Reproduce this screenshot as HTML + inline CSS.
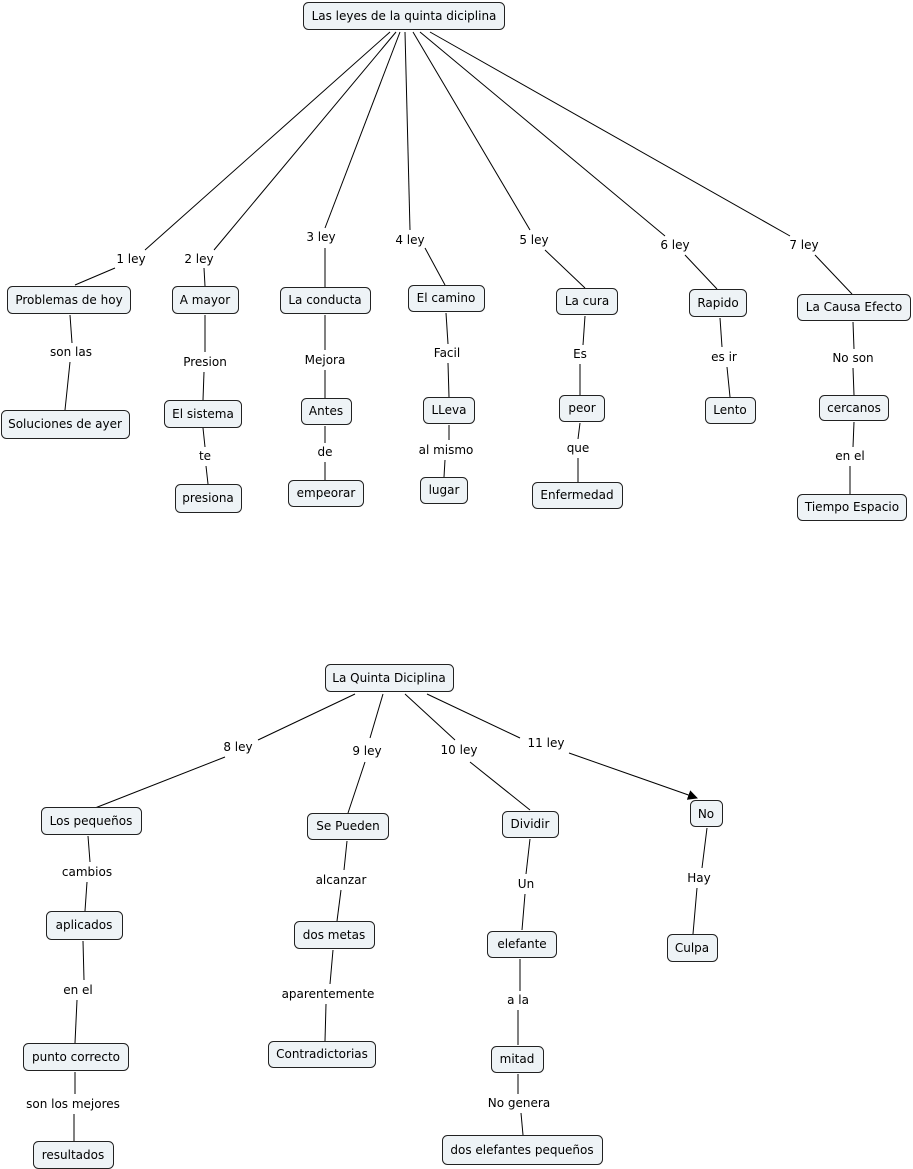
<!DOCTYPE html>
<html><head><meta charset="utf-8"><style>
html,body{margin:0;padding:0;background:#fff;}
svg{display:block;}
text{font-family:"DejaVu Sans","Liberation Sans",sans-serif;font-size:12px;fill:#000;}
rect{fill:#eef3f6;stroke:#222;stroke-width:1;}
line{stroke:#000;stroke-width:1;}
</style></head><body>
<svg width="913" height="1169" viewBox="0 0 913 1169" xmlns="http://www.w3.org/2000/svg">
<defs><marker id="ah" markerWidth="10" markerHeight="10" refX="9" refY="5" orient="auto" markerUnits="userSpaceOnUse"><path d="M0,0 L10,5 L0,10 z" fill="#000"/></marker></defs>
<g>
<!-- top connections -->
<line x1="390" y1="32" x2="145" y2="250"/><line x1="115" y1="268" x2="75" y2="285"/>
<line x1="396" y1="32" x2="214" y2="250"/><line x1="204" y1="268" x2="205" y2="286"/>
<line x1="400" y1="32" x2="325" y2="228"/><line x1="325" y1="248" x2="325" y2="287"/>
<line x1="405" y1="32" x2="410" y2="230"/><line x1="425" y1="248" x2="445" y2="285"/>
<line x1="413" y1="32" x2="530" y2="230"/><line x1="545" y1="250" x2="585" y2="288"/>
<line x1="420" y1="32" x2="665" y2="236"/><line x1="685" y1="255" x2="717" y2="289"/>
<line x1="430" y1="32" x2="790" y2="236"/><line x1="815" y1="255" x2="852" y2="294"/>
<!-- chains -->
<line x1="70" y1="315" x2="72" y2="343"/><line x1="70" y1="362" x2="65" y2="410"/>
<line x1="205" y1="315" x2="205" y2="352"/><line x1="204" y1="372" x2="203" y2="400"/>
<line x1="203" y1="428" x2="205" y2="447"/><line x1="206" y1="466" x2="208" y2="484"/>
<line x1="325" y1="315" x2="325" y2="350"/><line x1="325" y1="370" x2="325" y2="398"/>
<line x1="325" y1="426" x2="325" y2="443"/><line x1="325" y1="462" x2="325" y2="480"/>
<line x1="446" y1="313" x2="448" y2="344"/><line x1="448" y1="363" x2="449" y2="397"/>
<line x1="449" y1="425" x2="449" y2="440"/><line x1="445" y1="460" x2="444" y2="477"/>
<line x1="585" y1="316" x2="583" y2="345"/><line x1="580" y1="364" x2="580" y2="395"/>
<line x1="580" y1="423" x2="578" y2="439"/><line x1="578" y1="458" x2="578" y2="482"/>
<line x1="720" y1="318" x2="722" y2="347"/><line x1="727" y1="367" x2="730" y2="397"/>
<line x1="853" y1="322" x2="854" y2="349"/><line x1="853" y1="368" x2="854" y2="395"/>
<line x1="854" y1="422" x2="853" y2="447"/><line x1="850" y1="466" x2="850" y2="494"/>
<!-- bottom -->
<line x1="355" y1="694" x2="258" y2="740"/><line x1="225" y1="757" x2="95" y2="808"/>
<line x1="383" y1="694" x2="370" y2="738"/><line x1="365" y1="762" x2="348" y2="813"/>
<line x1="405" y1="694" x2="455" y2="740"/><line x1="470" y1="762" x2="530" y2="810"/>
<line x1="427" y1="694" x2="520" y2="738"/><line x1="569" y1="753" x2="697" y2="798" marker-end="url(#ah)"/>
<line x1="88" y1="836" x2="90" y2="862"/><line x1="87" y1="882" x2="85" y2="911"/>
<line x1="83" y1="941" x2="84" y2="980"/><line x1="77" y1="1000" x2="75" y2="1043"/>
<line x1="75" y1="1072" x2="75" y2="1094"/><line x1="74" y1="1114" x2="74" y2="1141"/>
<line x1="347" y1="841" x2="344" y2="870"/><line x1="341" y1="890" x2="337" y2="921"/>
<line x1="333" y1="950" x2="330" y2="984"/><line x1="326" y1="1004" x2="325" y2="1041"/>
<line x1="530" y1="839" x2="526" y2="874"/><line x1="525" y1="894" x2="522" y2="930"/>
<line x1="520" y1="959" x2="520" y2="991"/><line x1="518" y1="1010" x2="518" y2="1045"/>
<line x1="518" y1="1074" x2="518" y2="1094"/><line x1="521" y1="1113" x2="523" y2="1135"/>
<line x1="707" y1="828" x2="702" y2="868"/><line x1="697" y1="888" x2="693" y2="934"/>
</g>
<g>
<rect x="303.5" y="2.5" width="201" height="27" rx="5"/>
<rect x="7.5" y="286.5" width="123" height="27" rx="5"/>
<rect x="172.5" y="286.5" width="66" height="27" rx="5"/>
<rect x="280.5" y="287.5" width="90" height="26" rx="5"/>
<rect x="408.5" y="285.5" width="76" height="26" rx="5"/>
<rect x="556.5" y="288.5" width="61" height="26" rx="5"/>
<rect x="689.5" y="289.5" width="57" height="27" rx="5"/>
<rect x="797.5" y="294.5" width="113" height="26" rx="5"/>
<rect x="1.5" y="410.5" width="128" height="28" rx="5"/>
<rect x="164.5" y="400.5" width="77" height="27" rx="5"/>
<rect x="175.5" y="484.5" width="66" height="28" rx="5"/>
<rect x="301.5" y="398.5" width="50" height="26" rx="5"/>
<rect x="288.5" y="480.5" width="75" height="26" rx="5"/>
<rect x="423.5" y="397.5" width="51" height="26" rx="5"/>
<rect x="420.5" y="477.5" width="47" height="26" rx="5"/>
<rect x="559.5" y="395.5" width="45" height="26" rx="5"/>
<rect x="532.5" y="482.5" width="90" height="26" rx="5"/>
<rect x="705.5" y="397.5" width="50" height="26" rx="5"/>
<rect x="819.5" y="395.5" width="69" height="25" rx="5"/>
<rect x="797.5" y="494.5" width="109" height="26" rx="5"/>
<rect x="325.5" y="664.5" width="128" height="27" rx="5"/>
<rect x="41.5" y="807.5" width="100" height="27" rx="5"/>
<rect x="307.5" y="813.5" width="81" height="26" rx="5"/>
<rect x="502.5" y="811.5" width="56" height="26" rx="5"/>
<rect x="690.5" y="800.5" width="32" height="26" rx="5"/>
<rect x="46.5" y="911.5" width="76" height="28" rx="5"/>
<rect x="23.5" y="1043.5" width="105" height="27" rx="5"/>
<rect x="33.5" y="1141.5" width="80" height="27" rx="5"/>
<rect x="294.5" y="921.5" width="80" height="27" rx="5"/>
<rect x="268.5" y="1041.5" width="107" height="26" rx="5"/>
<rect x="487.5" y="931.5" width="69" height="26" rx="5"/>
<rect x="491.5" y="1046.5" width="52" height="26" rx="5"/>
<rect x="442.5" y="1135.5" width="160" height="29" rx="5"/>
<rect x="667.5" y="934.5" width="50" height="27" rx="5"/>
</g>
<g text-anchor="middle">
<text x="404" y="20">Las leyes de la quinta diciplina</text>
<text x="69" y="304">Problemas de hoy</text>
<text x="205" y="304">A mayor</text>
<text x="325" y="304">La conducta</text>
<text x="446" y="302">El camino</text>
<text x="587" y="305">La cura</text>
<text x="718" y="307">Rapido</text>
<text x="854" y="311">La Causa Efecto</text>
<text x="65" y="428">Soluciones de ayer</text>
<text x="203" y="418">El sistema</text>
<text x="208" y="502">presiona</text>
<text x="326" y="415">Antes</text>
<text x="326" y="497">empeorar</text>
<text x="449" y="414">LLeva</text>
<text x="444" y="494">lugar</text>
<text x="582" y="412">peor</text>
<text x="577" y="499">Enfermedad</text>
<text x="730" y="414">Lento</text>
<text x="854" y="412">cercanos</text>
<text x="852" y="511">Tiempo Espacio</text>
<text x="389" y="682">La Quinta Diciplina</text>
<text x="91" y="825">Los pequeños</text>
<text x="348" y="830">Se Pueden</text>
<text x="530" y="828">Dividir</text>
<text x="706" y="818">No</text>
<text x="84" y="929">aplicados</text>
<text x="76" y="1061">punto correcto</text>
<text x="73" y="1159">resultados</text>
<text x="334" y="939">dos metas</text>
<text x="322" y="1058">Contradictorias</text>
<text x="522" y="948">elefante</text>
<text x="517" y="1063">mitad</text>
<text x="522" y="1154">dos elefantes pequeños</text>
<text x="692" y="952">Culpa</text>
<!-- linking phrases -->
<text x="131" y="263">1 ley</text>
<text x="199" y="263">2 ley</text>
<text x="321" y="241">3 ley</text>
<text x="410" y="244">4 ley</text>
<text x="534" y="244">5 ley</text>
<text x="675" y="249">6 ley</text>
<text x="804" y="249">7 ley</text>
<text x="71" y="356">son las</text>
<text x="205" y="366">Presion</text>
<text x="205" y="460">te</text>
<text x="325" y="364">Mejora</text>
<text x="325" y="456">de</text>
<text x="447" y="357">Facil</text>
<text x="446" y="454">al mismo</text>
<text x="580" y="358">Es</text>
<text x="578" y="452">que</text>
<text x="724" y="361">es ir</text>
<text x="853" y="362">No son</text>
<text x="850" y="460">en el</text>
<text x="238" y="751">8 ley</text>
<text x="367" y="755">9 ley</text>
<text x="459" y="754">10 ley</text>
<text x="546" y="747">11 ley</text>
<text x="87" y="876">cambios</text>
<text x="78" y="994">en el</text>
<text x="73" y="1108">son los mejores</text>
<text x="341" y="884">alcanzar</text>
<text x="328" y="998">aparentemente</text>
<text x="526" y="888">Un</text>
<text x="518" y="1004">a la</text>
<text x="519" y="1107">No genera</text>
<text x="699" y="882">Hay</text>
</g>
</svg>
</body></html>
